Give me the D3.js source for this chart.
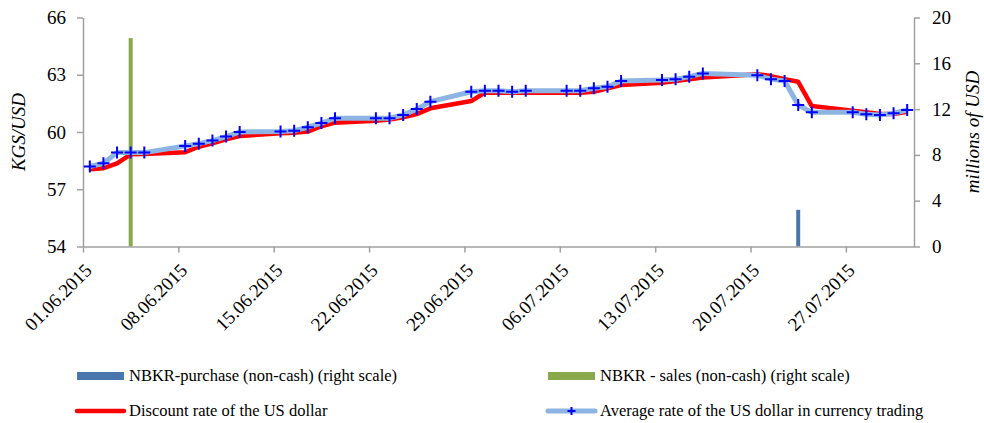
<!DOCTYPE html>
<html>
<head>
<meta charset="utf-8">
<script src="https://cdn.jsdelivr.net/npm/d3@7"></script>
<style>
  body { margin: 0; background: #fff; }
  svg, svg text { font-family: 'Liberation Serif', 'Times New Roman', 'DejaVu Serif', serif; }
</style>
</head>
<body>
<script>
// trading days (Kyrgyz som per US dollar)
const tradeDates = [
  "01.06.2015","02.06.2015","03.06.2015","04.06.2015","05.06.2015",
  "08.06.2015","09.06.2015","10.06.2015","11.06.2015","12.06.2015",
  "15.06.2015","16.06.2015","17.06.2015","18.06.2015","19.06.2015",
  "22.06.2015","23.06.2015","24.06.2015","25.06.2015","26.06.2015",
  "29.06.2015","30.06.2015","01.07.2015","02.07.2015","03.07.2015",
  "06.07.2015","07.07.2015","08.07.2015","09.07.2015","10.07.2015",
  "13.07.2015","14.07.2015","15.07.2015","16.07.2015",
  "20.07.2015","21.07.2015","22.07.2015","23.07.2015","24.07.2015",
  "27.07.2015","28.07.2015","29.07.2015","30.07.2015","31.07.2015"
];
const discountRate = [
  58.05, 58.10, 58.36, 58.83, 58.85,
  58.94, 59.23, 59.41, 59.62, 59.79,
  59.93, 59.96, 60.02, 60.30, 60.49,
  60.59, 60.66, 60.77, 60.94, 61.24,
  61.62, 62.06, 62.06, 62.06, 62.06,
  62.06, 62.06, 62.11, 62.29, 62.46,
  62.58, 62.67, 62.76, 62.86,
  63.03, 62.93, 62.77, 62.63, 61.36,
  61.12, 61.03, 60.94, 60.94, 61.06
];
const avgRate = [
  58.19, 58.36, 58.92, 58.92, 58.92,
  59.27, 59.39, 59.55, 59.76, 60.00,
  60.02, 60.07, 60.25, 60.47, 60.72,
  60.72, 60.72, 60.89, 61.20, 61.59,
  62.11, 62.16, 62.16, 62.11, 62.16,
  62.16, 62.16, 62.29, 62.37, 62.67,
  62.72, 62.76, 62.90, 63.07,
  62.98, 62.77, 62.67, 61.41, 61.03,
  61.03, 60.93, 60.89, 60.98, 61.15
];
// NBKR interventions, millions of USD
const purchaseDates = ["23.07.2015"];
const purchaseVals = [3.2];
const salesDates = ["04.06.2015"];
const salesVals = [18.2];

const xTicks = ["01.06.2015","08.06.2015","15.06.2015","22.06.2015","29.06.2015",
                "06.07.2015","13.07.2015","20.07.2015","27.07.2015"];
const leftTicks = [54, 57, 60, 63, 66];
const rightTicks = [0, 4, 8, 12, 16, 20];

const width = 984, height = 423;
const parse = d3.utcParse("%d.%m.%Y");
const fmt = d3.utcFormat("%d.%m.%Y");
const FONT = "'Liberation Serif', 'Times New Roman', 'DejaVu Serif', serif";

const svg = d3.select("body").append("svg")
  .attr("width", width).attr("height", height);

const x = d3.scaleUtc()
  .domain([parse("01.06.2015"), parse("01.08.2015")])
  .range([83, 914]);
// points sit in the middle of their day
const xc = s => x(d3.utcHour.offset(parse(s), 12));

const yL = d3.scaleLinear().domain([54, 66]).range([246.5, 17.5]);
const yR = d3.scaleLinear().domain([0, 20]).range([246.5, 17.5]);

const axisColor = "#a0a0a0";

// bars (right scale)
function bars(dates, vals, color) {
  svg.append("g").selectAll("rect")
    .data(dates.map((d, i) => ({d: d, v: vals[i]})))
    .enter().append("rect")
    .attr("x", d => xc(d.d) - 2)
    .attr("width", 4)
    .attr("y", d => yR(d.v))
    .attr("height", d => yR(0) - yR(d.v))
    .attr("fill", color);
}
bars(salesDates, salesVals, "#8aa84c");
bars(purchaseDates, purchaseVals, "#4a75ad");

// axes
function styleAxis(g) {
  g.attr("font-family", FONT).attr("font-size", 19);
  g.select(".domain").attr("stroke", axisColor).attr("stroke-width", 1.5);
  g.selectAll(".tick line").attr("stroke", axisColor).attr("stroke-width", 1.5);
  g.selectAll("text").attr("fill", "#000");
}

const gx = svg.append("g")
  .attr("transform", `translate(0,${yL(54)})`)
  .call(d3.axisBottom(x).tickValues(xTicks.map(parse)).tickFormat(fmt)
    .tickSize(6).tickSizeOuter(0));
styleAxis(gx);
gx.selectAll("text")
  .attr("text-anchor", "end")
  .attr("dy", null).attr("y", 0)
  .attr("transform", "translate(9.5,25) rotate(-45)");

const gl = svg.append("g")
  .attr("transform", "translate(83,0)")
  .call(d3.axisLeft(yL).tickValues(leftTicks).tickSize(6).tickSizeOuter(0).tickPadding(11));
styleAxis(gl);

const gr = svg.append("g")
  .attr("transform", "translate(914,0)")
  .call(d3.axisRight(yR).tickValues(rightTicks).tickSize(6).tickSizeOuter(0).tickPadding(12));
styleAxis(gr);

// axis titles
svg.append("text")
  .attr("transform", `translate(25,${(yL(54) + yL(66)) / 2}) rotate(-90)`)
  .attr("text-anchor", "middle")
  .attr("font-size", 19).attr("font-style", "italic")
  .text("KGS/USD");
svg.append("text")
  .attr("transform", `translate(979,${(yL(54) + yL(66)) / 2}) rotate(-90)`)
  .attr("text-anchor", "middle")
  .attr("font-size", 19).attr("font-style", "italic")
  .text("millions of USD");

// lines
const line = d3.line().x(d => xc(d.d)).y(d => yL(d.v));
const redData = tradeDates.map((d, i) => ({d: d, v: discountRate[i]}));
const blueData = tradeDates.map((d, i) => ({d: d, v: avgRate[i]}));

svg.append("path")
  .datum(redData)
  .attr("fill", "none").attr("stroke", "#ff0000").attr("stroke-width", 4.5)
  .attr("stroke-linejoin", "round")
  .attr("d", line);

svg.append("path")
  .datum(blueData)
  .attr("fill", "none").attr("stroke", "#8db4e2").attr("stroke-width", 5)
  .attr("stroke-linejoin", "round")
  .attr("d", line);

const plus = "M-6,0H6M0,-6V6";
svg.append("g").selectAll("path")
  .data(blueData)
  .enter().append("path")
  .attr("transform", d => `translate(${xc(d.d)},${yL(d.v)})`)
  .attr("d", plus)
  .attr("stroke", "#0000ff").attr("stroke-width", 2);

// legend
const leg = svg.append("g").attr("font-size", 16.5);
function legText(tx, ty, s) {
  leg.append("text").attr("x", tx).attr("y", ty).attr("dy", "0.33em").text(s);
}
leg.append("rect").attr("x", 77).attr("y", 372).attr("width", 47).attr("height", 8).attr("fill", "#4a75ad");
legText(129, 376, "NBKR-purchase (non-cash) (right scale)");
leg.append("rect").attr("x", 548).attr("y", 372).attr("width", 47).attr("height", 8).attr("fill", "#8aa84c");
legText(600, 376, "NBKR - sales (non-cash) (right scale)");

leg.append("line").attr("x1", 77).attr("x2", 124).attr("y1", 411).attr("y2", 411)
  .attr("stroke", "#ff0000").attr("stroke-width", 4.5).attr("stroke-linecap", "round");
legText(129, 411, "Discount rate of the US dollar");
leg.append("line").attr("x1", 548).attr("x2", 595).attr("y1", 411).attr("y2", 411)
  .attr("stroke", "#8db4e2").attr("stroke-width", 5).attr("stroke-linecap", "round");
leg.append("path").attr("transform", "translate(571.5,411)").attr("d", "M-4,0H4M0,-4V4")
  .attr("stroke", "#0000ff").attr("stroke-width", 2);
legText(600, 411, "Average rate of the US dollar in currency trading");
</script>
</body>
</html>
